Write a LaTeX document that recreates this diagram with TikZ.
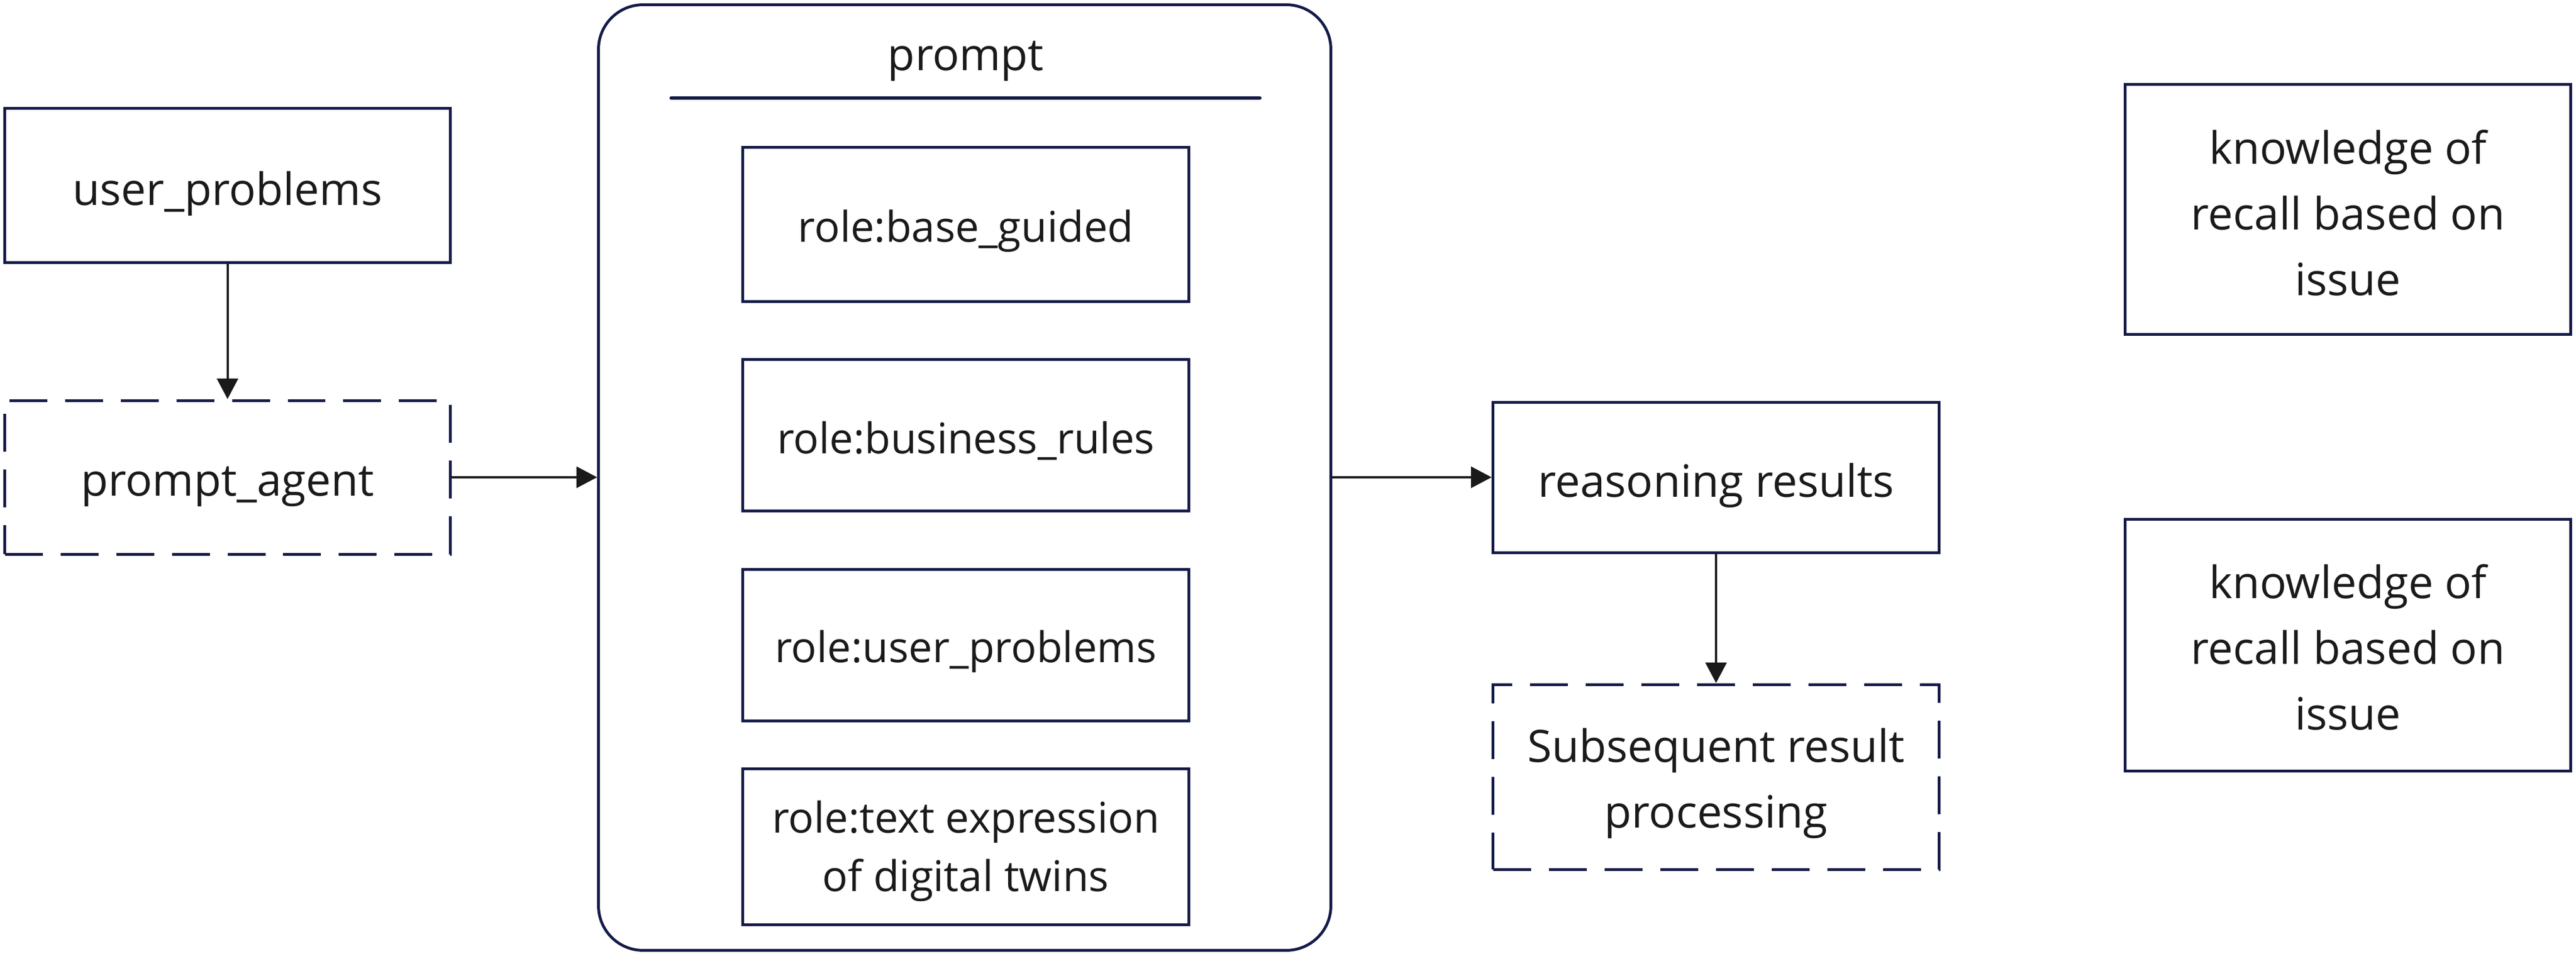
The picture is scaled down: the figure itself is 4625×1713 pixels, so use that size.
\documentclass[tikz,border=0pt]{standalone}
\usepackage{fontspec}
\setmainfont{Open Sans}
\usetikzlibrary{arrows.meta}
\definecolor{navy}{HTML}{141B47}
\definecolor{ink}{HTML}{1A1A1A}
\begin{document}
\begin{tikzpicture}[x=0.1pt,y=-0.1pt,
  txt/.style={text=ink, inner sep=0pt, align=center, font=\fontsize{8}{11.8}\selectfont},
  roletxt/.style={txt, font=\fontsize{7.6}{10.5}\selectfont},
  box/.style={draw=navy, line width=0.5pt, inner sep=0pt},
  dashbox/.style={box, dash pattern=on 6.8pt off 3.2pt},
  conn/.style={draw=ink, line width=0.4pt, -{Triangle[length=3.7pt,width=3.8pt]}}]
\useasboundingbox (0,0) rectangle (4625,1713);
% left column
\node[box, minimum width=80pt, minimum height=27.7pt,
  label={[txt, yshift=-1.5pt]center:user\_problems}] (up) at (408.5,333) {};
\node[dashbox, minimum width=80pt, minimum height=27.6pt,
  label={[txt, yshift=-1.7pt]center:prompt\_agent}] (pa) at (408.5,857) {};
% prompt container
\node[draw=navy, line width=0.5pt, rounded corners=8pt, minimum width=131.5pt, minimum height=169.8pt, inner sep=0pt] (big) at (1732,857.5) {};
\node[anchor=base, txt] (ptitle) at (1734,126) {prompt};
\coordinate (sepL) at (1205,176);
\coordinate (sepR) at (2262,176);
\draw[navy, line width=0.6pt, line cap=round] (sepL) -- (sepR);
\node[box, minimum width=80.1pt, minimum height=27.8pt,
  label={[roletxt, yshift=-1.2pt]center:role:base\_guided}] (b1) at (1734,403) {};
\node[box, minimum width=80.1pt, minimum height=27.2pt,
  label={[roletxt, yshift=-1.0pt]center:role:business\_rules}] (b2) at (1734,781) {};
\node[box, minimum width=80.1pt, minimum height=27.2pt,
  label={[roletxt, yshift=-1.2pt]center:role:user\_problems}] (b3) at (1734,1158) {};
\node[box, minimum width=80.1pt, minimum height=28pt,
  label={[roletxt, yshift=-0.8pt]center:{role:text expression\\of digital twins}}] (b4) at (1734,1520) {};
% right part
\node[box, minimum width=80.1pt, minimum height=27pt,
  label={[txt, yshift=-1.5pt]center:reasoning results}] (rr) at (3081,857) {};
\node[dashbox, minimum width=80.1pt, minimum height=33.2pt,
  label={[txt, yshift=-1.2pt]center:{Subsequent result\\processing}}] (sub) at (3081,1395) {};
\node[box, minimum width=80pt, minimum height=45pt,
  label={[txt, yshift=-0.6pt]center:{knowledge of\\recall based on\\issue}}] (k1) at (4215.5,376) {};
\node[box, minimum width=80pt, minimum height=45.2pt,
  label={[txt, yshift=-0.4pt]center:{knowledge of\\recall based on\\issue}}] (k2) at (4215.5,1158) {};
% connectors
\draw[conn] (up.south) -- (pa.north);
\draw[conn] (pa.east) -- (pa.east -| big.west);
\draw[conn] (big.east |- rr.west) -- (rr.west);
\draw[conn] (rr.south) -- (sub.north);
\end{tikzpicture}
\end{document}
